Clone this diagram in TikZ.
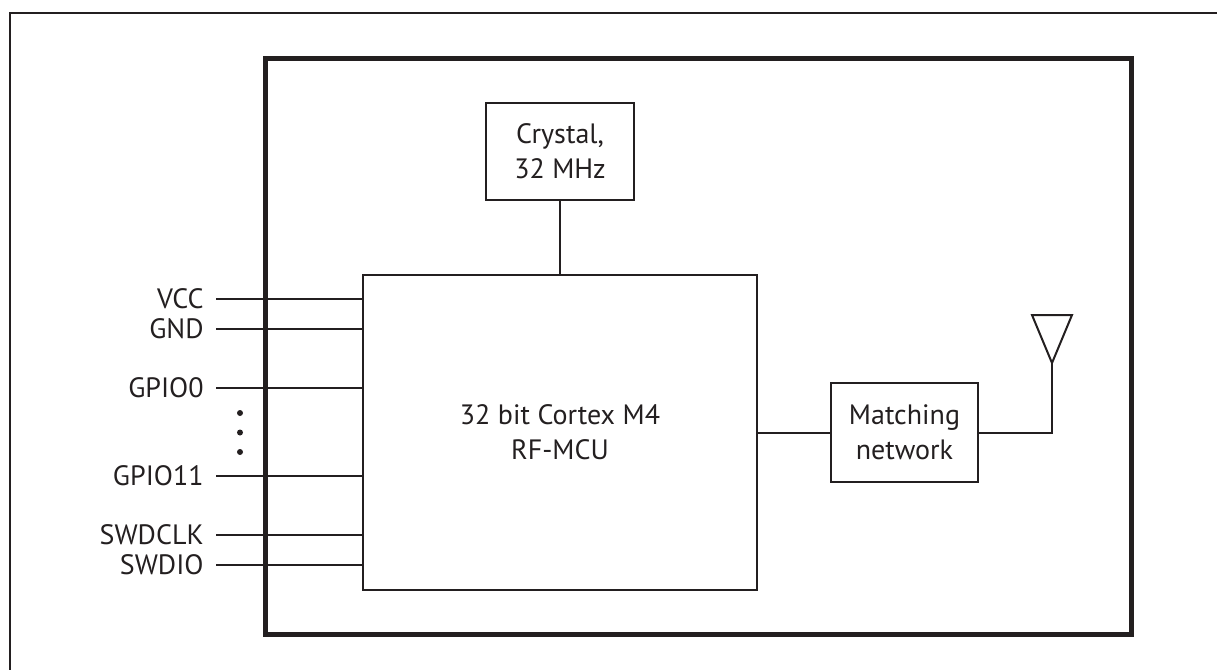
\documentclass[tikz,border=0pt]{standalone}
\usepackage{fontspec}
\setmainfont{PT Sans}
\usetikzlibrary{positioning}
\definecolor{ink}{HTML}{231F20}

\tikzset{
  block/.style={draw=ink, line width=1pt, align=center, inner sep=0pt, text=ink},
  pin/.style={anchor=east, inner xsep=6pt, inner ysep=0pt, text=ink},
  wire/.style={draw=ink, line width=1pt}
}

\begin{document}
\begin{tikzpicture}[x=0.5pt,y=-0.5pt,font=\fontsize{14}{17.5}\selectfont]
\useasboundingbox (0,0) rectangle (1217,670);
\draw[ink, line width=1pt] (1217,13) -- (10,13) -- (10,670);
\draw[ink, line width=2.5pt] (265,58.5) rectangle (1131,634);

\node[block, minimum width=197pt, minimum height=157.5pt] (mcu) at (560,432.5) {32 bit Cortex M4\\RF-MCU};
\node[block, minimum width=74pt, minimum height=48.5pt] (xtal) at (560,151.5) {Crystal,\\32 MHz};
\node[block, minimum width=73.5pt, minimum height=49.5pt] (match) at (904.5,432.5) {Matching\\network};

\node[pin] (vcc) at (216,299) {VCC};
\node[pin] (gnd) at (216,329) {GND};
\node[pin] (gpio0) at (216,388) {GPIO0};
\node[pin] (gpio11) at (216,476) {GPIO11};
\node[pin] (swdclk) at (216,535) {SWDCLK};
\node[pin] (swdio) at (216,565) {SWDIO};

\foreach \p in {vcc,gnd,gpio0,gpio11,swdclk,swdio}
  \draw[wire] (\p.east) -- (\p.east -| mcu.west);

\fill[ink] (240,413) circle (1.5pt);
\fill[ink] (240,432.5) circle (1.5pt);
\fill[ink] (240,452) circle (1.5pt);

\draw[wire] (xtal) -- (mcu);
\draw[wire] (mcu) -- (match);

\coordinate (ant) at (1052,363);
\draw[wire] (match.east) -| (ant);
\draw[wire, line join=miter] (1032,315) -- (1072,315) -- (ant) -- cycle;
\end{tikzpicture}
\end{document}
